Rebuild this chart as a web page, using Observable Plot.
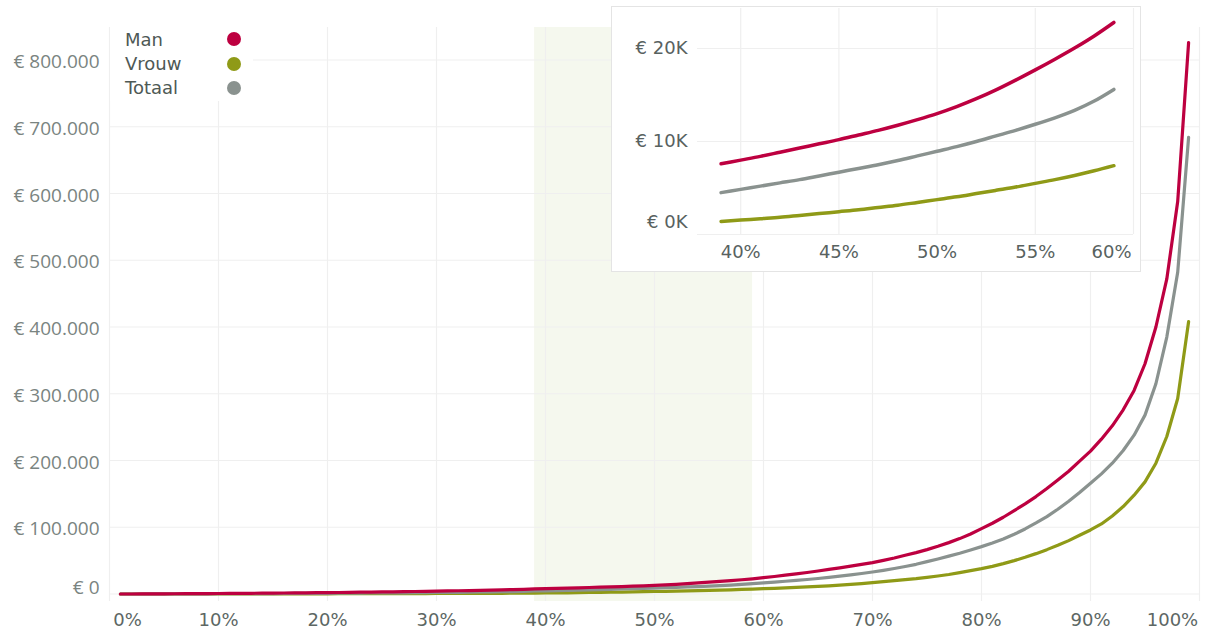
<!DOCTYPE html>
<html><head><meta charset="utf-8">
<script src="https://cdn.jsdelivr.net/npm/d3@7"></script>
<script src="https://cdn.jsdelivr.net/npm/@observablehq/plot@0.6"></script>
<style>
body{margin:0;background:#fff;}
#wrap{position:relative;width:1207px;height:637px;overflow:hidden;font-family:"DejaVu Sans",sans-serif;}
#main{position:absolute;left:0;top:0;}
#legend{position:absolute;left:110px;top:27px;width:143px;height:74px;background:#fff;}
.row{position:absolute;left:15px;font-size:18px;color:#4e5955;line-height:18px;white-space:nowrap;}
.dot{position:absolute;left:117px;width:14px;height:14px;border-radius:50%;}
#inset{position:absolute;left:611px;top:6px;width:528px;height:264px;border:1px solid #e4e4e4;background:#fff;}
</style></head><body>
<div id="wrap"><div id="main"></div><div id="legend"></div><div id="inset"></div></div>
<script>
// ---- data (values in thousands of euro), percentiles 1..99 ----
const percentiles = d3.range(1, 100);
const seriesNames = ["Man", "Vrouw", "Totaal"];
const seriesColors = ["#bd0040", "#8f9a17", "#8a928f"];
const manK = [
  0, 0.05, 0.1, 0.2, 0.3, 0.4, 0.5, 0.6, 0.7, 0.8,
  0.9, 1.0, 1.1, 1.2, 1.4, 1.5, 1.7, 1.8, 2.0, 2.1,
  2.3, 2.5, 2.7, 2.9, 3.1, 3.3, 3.5, 3.8, 4.0, 4.3,
  4.6, 4.9, 5.2, 5.5, 5.9, 6.3, 6.7, 7.1, 7.6, 8.0,
  8.4, 8.85, 9.3, 9.75, 10.2, 10.7, 11.2, 11.75, 12.35, 13.0,
  13.75, 14.6, 15.55, 16.6, 17.7, 18.85, 20.05, 21.35, 22.8, 24.5,
  26.3, 28.2, 30.2, 32.3, 34.5, 36.8, 39.2, 41.7, 44.3, 47,
  50.5, 54, 58, 62, 66.5, 71.5, 77, 83, 90, 98,
  106, 115, 125, 135, 146, 158, 171, 184, 199, 214,
  232, 252, 276, 305, 345, 400, 472, 588, 826
];
const vrouwK = [
  0, 0, 0, 0, 0.02, 0.04, 0.06, 0.08, 0.1, 0.12,
  0.14, 0.16, 0.18, 0.2, 0.22, 0.25, 0.28, 0.31, 0.34, 0.37,
  0.4, 0.43, 0.46, 0.5, 0.54, 0.58, 0.62, 0.66, 0.7, 0.75,
  0.8, 0.85, 0.9, 0.96, 1.02, 1.1, 1.18, 1.28, 1.4, 1.55,
  1.7, 1.85, 2.05, 2.25, 2.45, 2.65, 2.9, 3.15, 3.45, 3.75,
  4.05, 4.4, 4.75, 5.1, 5.5, 5.9, 6.35, 6.85, 7.4, 8.0,
  8.6, 9.2, 9.9, 10.6, 11.4, 12.3, 13.3, 14.4, 15.6, 17,
  18.5, 20, 21.5, 23, 25, 27, 29.3, 32, 35, 38,
  41.5, 45.5, 50, 55, 60.5, 66.5, 73, 80, 88, 96,
  105, 117, 131, 148, 168, 196, 236, 293, 408
];
const totaalK = [
  0, 0, 0.05, 0.1, 0.15, 0.2, 0.25, 0.3, 0.35, 0.4,
  0.45, 0.5, 0.55, 0.6, 0.7, 0.75, 0.85, 0.9, 1.0, 1.1,
  1.2, 1.3, 1.4, 1.5, 1.6, 1.7, 1.85, 2.0, 2.15, 2.3,
  2.45, 2.6, 2.8, 3.0, 3.2, 3.45, 3.7, 4.1, 4.5, 4.85,
  5.2, 5.55, 5.9, 6.3, 6.7, 7.1, 7.5, 7.95, 8.45, 8.95,
  9.45, 10.0, 10.6, 11.2, 11.85, 12.55, 13.35, 14.35, 15.6, 16.6,
  17.8, 19.1, 20.4, 21.8, 23.3, 24.9, 26.7, 28.6, 30.7, 33,
  35.5, 38.2, 41.2, 44.5, 48.5, 52.5, 56.8, 61.2, 66, 71,
  76.5, 82.5, 89.5, 97.5, 106.5, 116, 127, 139, 152, 166,
  180, 196, 215, 238, 268, 315, 385, 482, 684
];
const highlight = [0.39, 0.59];               // shaded band / inset range
const xTicks = [0, 0.1, 0.2, 0.3, 0.4, 0.5, 0.6, 0.7, 0.8, 0.9, 1];
const yTicks = [0, 100000, 200000, 300000, 400000, 500000, 600000, 700000, 800000];
const insetXTicks = [0.40, 0.45, 0.50, 0.55, 0.60];
const insetYTicks = [0, 10000, 20000];

// ---- build table ----
const valuesBy = {Man: manK, Vrouw: vrouwK, Totaal: totaalK};
const drawOrder = ["Vrouw", "Totaal", "Man"];
const table = drawOrder.flatMap(name => percentiles.map((p, i) => ({p: p / 100, v: valuesBy[name][i] * 1000, name})));
const insetTable = table.filter(d => d.p >= highlight[0] - 1e-9 && d.p <= highlight[1] + 1e-9);

const nl = d3.formatLocale({decimal: ",", thousands: ".", grouping: [3], currency: ["€", ""]});
const euro = d => "€ " + nl.format(",.0f")(d);
const pct = d => Math.round(d * 100) + "%";
const grid = "#efefef";
const FONT = "DejaVu Sans";
const color = {domain: seriesNames, range: seriesColors};

// ---- main chart ----
const main = Plot.plot({
  width: 1207, height: 637,
  marginLeft: 109, marginRight: 8, marginTop: 27, marginBottom: 36,
  x: {domain: [0, 1], axis: null},
  y: {domain: [-11200, 848700], axis: null},
  color,
  style: {background: "transparent", fontFamily: FONT},
  marks: [
    Plot.rect([highlight], {x1: d => d[0], x2: d => d[1], fill: "#f5f8ee"}),
    Plot.ruleX(xTicks, {x: d => d, stroke: grid, strokeWidth: 1.2}),
    Plot.ruleY(yTicks, {y: d => d, stroke: grid, strokeWidth: 1.2}),
    Plot.line(table, {x: "p", y: "v", z: "name", stroke: "name", strokeWidth: 3.2, strokeLinecap: "round", strokeLinejoin: "round"}),
    Plot.text(xTicks.slice(1, -1), {x: d => d, frameAnchor: "bottom", dy: 24, text: pct, fontSize: 18, fill: "#5d6764", fontFamily: FONT}),
    Plot.text(xTicks.slice(0, 1), {x: d => d, frameAnchor: "bottom", dy: 24, dx: 18, text: pct, fontSize: 18, fill: "#5d6764", fontFamily: FONT}),
    Plot.text(xTicks.slice(-1), {x: d => d, frameAnchor: "bottom", dy: 24, dx: -27, text: pct, fontSize: 18, fill: "#5d6764", fontFamily: FONT}),
    Plot.text(yTicks.slice(1), {y: d => d, frameAnchor: "left", dx: -10, dy: 2, textAnchor: "end", text: euro, fontSize: 19, fill: "#7a8481", fontFamily: "Open Sans"}),
    Plot.text(yTicks.slice(0, 1), {y: d => d, frameAnchor: "left", dx: -10, dy: -6, textAnchor: "end", text: euro, fontSize: 19, fill: "#7a8481", fontFamily: "Open Sans"})
  ]
});
document.getElementById("main").appendChild(main);

// ---- legend ----
const legend = document.getElementById("legend");
seriesNames.forEach((name, i) => {
  const row = document.createElement("div");
  row.className = "row";
  row.style.top = (4 + i * 24) + "px";
  row.textContent = name;
  legend.appendChild(row);
  const dot = document.createElement("div");
  dot.className = "dot";
  dot.style.top = (5 + i * 24.5) + "px";
  dot.style.background = seriesColors[i];
  legend.appendChild(dot);
});

// ---- inset ----
const kfmt = d => "€ " + Math.round(d / 1000) + "K";
const inset = Plot.plot({
  width: 528, height: 264,
  marginLeft: 85, marginRight: 7, marginTop: 1, marginBottom: 37,
  x: {domain: [0.378, 0.6], axis: null},
  y: {domain: [0, 24300], axis: null},
  color,
  style: {background: "transparent", fontFamily: FONT},
  marks: [
    Plot.ruleX(insetXTicks, {x: d => d, stroke: grid, strokeWidth: 1.2}),
    Plot.ruleY(insetYTicks, {y: d => d, stroke: grid, strokeWidth: 1.2}),
    Plot.line(insetTable, {x: "p", y: "v", z: "name", stroke: "name", strokeWidth: 3.5, strokeLinecap: "round", curve: "monotone-x"}),
    Plot.text(insetXTicks.slice(0, -1), {x: d => d, frameAnchor: "bottom", dy: 23, text: pct, fontSize: 18, fill: "#58625f", fontFamily: FONT}),
    Plot.text(insetXTicks.slice(-1), {x: d => d, frameAnchor: "bottom", dy: 23, dx: -22, text: pct, fontSize: 18, fill: "#58625f", fontFamily: FONT}),
    Plot.text(insetYTicks.slice(1), {y: d => d, frameAnchor: "left", dx: -10, textAnchor: "end", text: kfmt, fontSize: 18, fill: "#58625f", fontFamily: FONT}),
    Plot.text(insetYTicks.slice(0, 1), {y: d => d, frameAnchor: "left", dx: -10, dy: -12, textAnchor: "end", text: kfmt, fontSize: 18, fill: "#58625f", fontFamily: FONT})
  ]
});
document.getElementById("inset").appendChild(inset);
</script>
</body></html>
